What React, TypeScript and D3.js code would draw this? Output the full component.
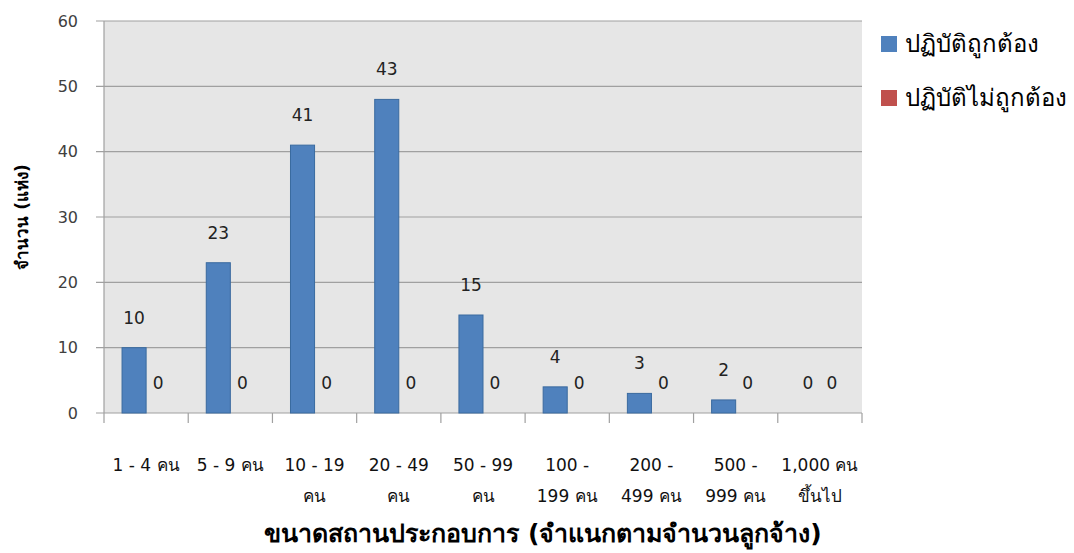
import React from "react";
import * as d3 from "d3";

// categories split into two label lines, as in the picture
const categories = [
  "1 - 4 คน",
  "5 - 9 คน",
  "10 - 19 คน",
  "20 - 49 คน",
  "50 - 99 คน",
  "100 - 199 คน",
  "200 - 499 คน",
  "500 - 999 คน",
  "1,000 คน ขึ้นไป",
];
const tickLine1 = ["1 - 4 คน", "5 - 9 คน", "10 - 19", "20 - 49", "50 - 99", "100 -", "200 -", "500 -", "1,000 คน"];
const tickLine2 = ["", "", "คน", "คน", "คน", "199 คน", "499 คน", "999 คน", "ขึ้นไป"];

const seriesNames = ["ปฏิบัติถูกต้อง", "ปฏิบัติไม่ถูกต้อง"];
const seriesColors = ["#4f81bd", "#c0504d"];

// bar heights as drawn, and the labels printed over them
const correctValues = [10, 23, 41, 48, 15, 4, 3, 2, 0];
const correctLabels = ["10", "23", "41", "43", "15", "4", "3", "2", "0"];
const incorrectValues = [0, 0, 0, 0, 0, 0, 0, 0, 0];
const incorrectLabels = ["0", "0", "0", "0", "0", "0", "0", "0", "0"];

const yTicks = [0, 10, 20, 30, 40, 50, 60];

const W = 1074;
const H = 553;
const font = "'DejaVu Sans', 'Liberation Sans', sans-serif";

export default function App() {
  const plot = { left: 104, right: 862, top: 21, bottom: 413 };

  const x = d3.scaleBand<string>().domain(categories).range([plot.left, plot.right]);
  const y = d3.scaleLinear().domain([0, 60]).range([plot.bottom, plot.top]);

  const bw = x.bandwidth();
  const barW = bw / 3.5;
  const sub = d3.scaleBand<number>().domain([0, 1]).range([barW * 0.75, bw - barW * 0.75]);

  const series = [
    { values: correctValues, labels: correctLabels },
    { values: incorrectValues, labels: incorrectLabels },
  ];

  return (
    <svg width={W} height={H} style={{ position: "absolute", left: 0, top: 0, background: "#fff" }}>
      <rect x={plot.left} y={plot.top} width={plot.right - plot.left} height={plot.bottom - plot.top} fill="#e6e6e6" />
      {yTicks.map((t) => (
        <g key={t}>
          <line x1={plot.left - 8} x2={plot.right} y1={y(t)} y2={y(t)} stroke="#a0a0a0" strokeWidth={1.2} />
          <text x={78} y={y(t)} dy="0.35em" textAnchor="end" fontFamily={font} fontSize={16} fill="#404040">
            {t}
          </text>
        </g>
      ))}
      <line x1={plot.left} x2={plot.left} y1={plot.top} y2={plot.bottom} stroke="#a0a0a0" strokeWidth={1.2} />
      {categories.map((c) => (
        <line key={c} x1={x(c)!} x2={x(c)!} y1={plot.bottom} y2={plot.bottom + 10} stroke="#a0a0a0" strokeWidth={1.2} />
      ))}
      <line x1={plot.right} x2={plot.right} y1={plot.bottom} y2={plot.bottom + 10} stroke="#a0a0a0" strokeWidth={1.2} />

      {series.map((s, si) =>
        categories.map((c, i) => {
          const bx = x(c)! + sub(si)!;
          const top = y(s.values[i]);
          return (
            <g key={`${si}-${c}`}>
              {s.values[i] > 0 && (
                <rect
                  x={bx}
                  y={top}
                  width={sub.bandwidth()}
                  height={plot.bottom - top}
                  fill={seriesColors[si]}
                  stroke="#3a6a9f"
                  strokeWidth={1}
                />
              )}
              <text
                x={bx + sub.bandwidth() / 2}
                y={top - 30}
                dy="0.35em"
                textAnchor="middle"
                fontFamily={font}
                fontSize={17}
                fill="#222"
              >
                {s.labels[i]}
              </text>
            </g>
          );
        })
      )}

      {categories.map((c, i) => (
        <g key={`lab-${c}`} fontFamily={font} fontSize={17} fill="#111" textAnchor="middle">
          <text x={x(c)! + bw / 2} y={465} dy="0.35em">{tickLine1[i]}</text>
          <text x={x(c)! + bw / 2} y={496} dy="0.35em">{tickLine2[i]}</text>
        </g>
      ))}

      <text x={(plot.left + plot.right) / 2 + 60} y={533} dy="0.35em" textAnchor="middle" fontFamily={font} fontSize={25} fontWeight="bold" fill="#000">
        ขนาดสถานประกอบการ (จำแนกตามจำนวนลูกจ้าง)
      </text>
      <text
        transform={`translate(22,${(plot.top + plot.bottom) / 2}) rotate(-90)`}
        textAnchor="middle"
        dy="0.35em"
        fontFamily={font}
        fontSize={17}
        fontWeight="bold"
        fill="#000"
      >
        จำนวน (แห่ง)
      </text>

      {seriesNames.map((n, i) => (
        <g key={n} transform={`translate(881,${44 + i * 54})`}>
          <rect x={0} y={-8} width={16} height={16} fill={seriesColors[i]} />
          <text x={24} y={0} dy="0.35em" fontFamily={font} fontSize={24} fill="#000">
            {n}
          </text>
        </g>
      ))}
    </svg>
  );
}
